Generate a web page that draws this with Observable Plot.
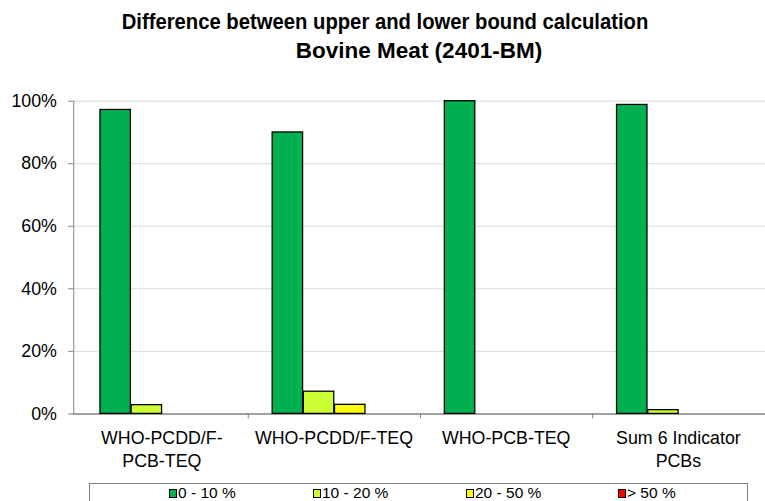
<!DOCTYPE html>
<html>
<head>
<meta charset="utf-8">
<script src="https://cdn.jsdelivr.net/npm/d3@7"></script>
<script src="https://cdn.jsdelivr.net/npm/@observablehq/plot@0.6"></script>
<style>
  html, body { margin: 0; padding: 0; background: #fff; overflow: hidden; }
  #wrap { position: relative; width: 765px; height: 501px; overflow: hidden; font-family: "Liberation Sans", Arial, sans-serif; }
  #title { position: absolute; left: 0; top: 8px; width: 770px; font-weight: bold; font-size: 22.5px; line-height: 28px; color: #000; }
  #title .l1 { position: absolute; left: 385px; top: 0; white-space: nowrap; transform: translateX(-50%) scaleX(0.9); }
  #title .l2 { position: absolute; left: 419px; top: 29px; white-space: nowrap; transform: translateX(-50%); }
  #chart { position: absolute; left: 0; top: 70px; }
  #legend { position: absolute; left: 89px; top: 483px; width: 659px; height: 30px; border: 1px solid #7f7f7f; box-sizing: border-box; }
  .item { position: absolute; top: 0px; font-size: 15.5px; white-space: nowrap; display: flex; align-items: center; }
  .sw { display: inline-block; width: 6px; height: 7px; border: 1px solid #000; margin-right: 1px; }
</style>
</head>
<body>
<div id="wrap">
  <div id="title"><div class="l1">Difference between upper and lower bound calculation</div><div class="l2">Bovine Meat (2401-BM)</div></div>
  <div id="chart"></div>
  <div id="legend"></div>
</div>
<script>
const categories = ["WHO-PCDD/F-PCB-TEQ", "WHO-PCDD/F-TEQ", "WHO-PCB-TEQ", "Sum 6 Indicator PCBs"];
const categoryLabels = ["WHO-PCDD/F-\nPCB-TEQ", "WHO-PCDD/F-TEQ", "WHO-PCB-TEQ", "Sum 6 Indicator\nPCBs"];
const seriesNames = ["0 - 10 %", "10 - 20 %", "20 - 50 %", "> 50 %"];
const seriesColors = ["#00b050", "#ccff33", "#ffff00", "#ff0000"];
const s0to10 = [97.2, 90.0, 100.0, 98.8];
const s10to20 = [2.8, 7.1, 0, 1.2];
const s20to50 = [0, 2.9, 0, 0];
const sOver50 = [0, 0, 0, 0];
const yTicks = [0, 20, 40, 60, 80, 100];

const seriesValues = [s0to10, s10to20, s20to50, sOver50];
const rows = [];
seriesValues.forEach((vals, si) => {
  vals.forEach((v, ci) => rows.push({category: categories[ci], series: seriesNames[si], si, value: v}));
});

const W = 773, ML = 74, MR = 0;
const bw = (W - ML - MR) / categories.length;
const barW = 31.5, padL = 25;
const labelOf = new Map(categories.map((c, i) => [c, categoryLabels[i]]));

const barMarks = seriesNames.map((name, si) =>
  Plot.barY(rows.filter(d => d.si === si && d.value > 0), {
    x: "category", y: "value",
    fill: seriesColors[si], stroke: "#000", strokeWidth: 1.3,
    insetLeft: padL + barW * si, insetRight: bw - padL - barW * (si + 1)
  })
);

const chart = Plot.plot({
  width: W, height: 410,
  marginTop: 31, marginBottom: 63, marginLeft: ML, marginRight: MR,
  style: {fontFamily: "'Liberation Sans', Arial, sans-serif", background: "#fff", color: "#000"},
  x: {type: "band", domain: categories, padding: 0},
  y: {domain: [0, 100]},
  marks: [
    Plot.ruleY(yTicks.filter(t => t > 0), {stroke: "#d9d9d9", strokeWidth: 1}),
    Plot.frame({anchor: "left", stroke: "#808080"}),
    Plot.ruleY([0], {stroke: "#808080", strokeWidth: 1.5}),
    Plot.axisY({ticks: yTicks, tickSize: 5, tickPadding: 12, tickFormat: d => d + "%", fontSize: 18, stroke: "#808080", label: null}),
    Plot.axisX({tickSize: 0, tickPadding: 14, tickFormat: d => labelOf.get(d), fontSize: 18, lineHeight: 1.3, label: null}),
    Plot.ruleX(categories.slice(0, 3), {x: d => d, dx: bw / 2, y1: 0, y2: 0, insetBottom: -5, stroke: "#808080"}),
    ...barMarks
  ]
});
document.getElementById("chart").appendChild(chart);

const legendLefts = [79, 223, 376, 528];
const legend = document.getElementById("legend");
seriesNames.forEach((name, i) => {
  const it = document.createElement("div");
  it.className = "item";
  it.style.left = legendLefts[i] + "px";
  it.innerHTML = `<span class="sw" style="background:${seriesColors[i]}"></span><span>${name}</span>`;
  legend.appendChild(it);
});
</script>
</body>
</html>
